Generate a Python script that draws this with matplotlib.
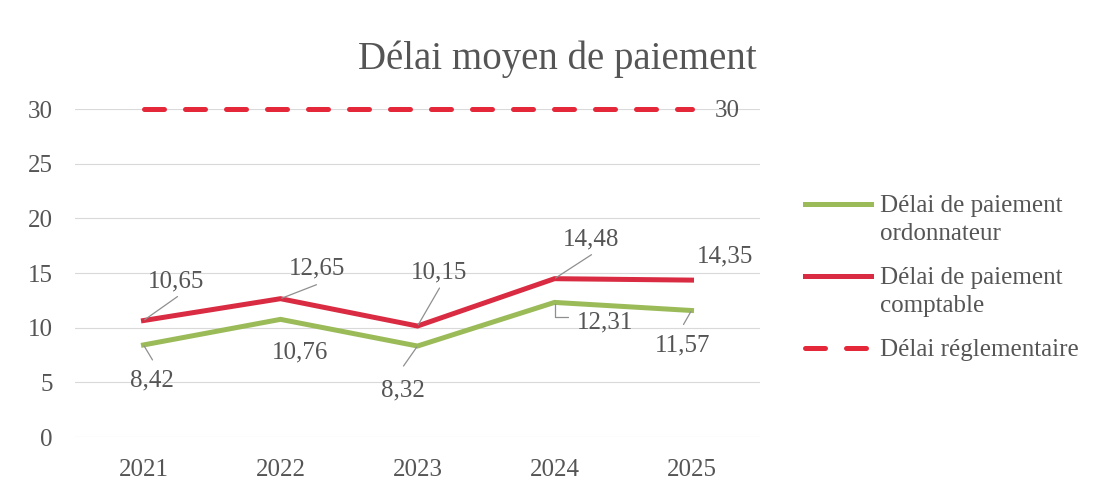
import matplotlib.pyplot as plt
from matplotlib.lines import Line2D

years = ["2021", "2022", "2023", "2024", "2025"]
ordonnateur = [8.42, 10.76, 8.32, 12.31, 11.57]
comptable = [10.65, 12.65, 10.15, 14.48, 14.35]
reglementaire = [30, 30, 30, 30, 30]

GREEN = "#9BBB59"
RED = "#D92B42"
RED_DASH = "#E4283A"
TEXT = "#555555"
LEAD = "#8F8F8F"
W, H = 1097, 494
DASH = (0, (4.0, 4.2))

plt.rcParams["font.family"] = ["Liberation Serif", "DejaVu Serif"]

fig = plt.figure(figsize=(W / 100, H / 100), dpi=100)
ax = fig.add_axes([75 / W, 1 - 437 / H, 685 / W, 328 / H])

x = list(range(len(years)))
ax.plot(x, ordonnateur, color=GREEN, lw=3.6, solid_joinstyle="miter", zorder=3)
ax.plot(x, comptable, color=RED, lw=3.6, solid_joinstyle="miter", zorder=3)
ax.plot(x, reglementaire, color=RED_DASH, lw=3.6, ls=DASH, dash_capstyle="round",
        clip_on=False, zorder=3)

ax.set_xlim(-0.5, 4.5)
ax.set_ylim(0, 30)
ax.set_yticks(range(0, 31, 5))
ax.set_xticks(x)
ax.set_xticklabels(years)
ax.grid(axis="y", color="#D9D9D9", lw=0.8)
ax.set_axisbelow(True)
for s in ax.spines.values():
    s.set_visible(False)
ax.tick_params(length=0, labelsize=18, colors=TEXT)
ax.tick_params(axis="y", pad=16)
ax.tick_params(axis="x", pad=16)


def fmt(v):
    return f"{v:.2f}".replace(".", ",")


def label(i, v, off, lead=None, elbow=False):
    # off / lead: pixel offsets (right, up) from the data point
    dx, dy = off
    ax.annotate(fmt(v), (i, v), xytext=(dx, dy - 8), textcoords="offset pixels",
                ha="center", va="baseline", fontsize=18, color=TEXT,
                annotation_clip=False)
    if lead is None:
        return
    props = dict(arrowstyle="-", color=LEAD, lw=0.9, shrinkA=0, shrinkB=1)
    if elbow:
        props["connectionstyle"] = "angle,angleA=0,angleB=90,rad=0"
    ax.annotate("", (i, v), xytext=lead, textcoords="offset pixels",
                arrowprops=props, annotation_clip=False)


comptable_off = [(33, 41), (37, 32), (22, 56), (37, 41), (34, 26)]
comptable_lead = [(34, 24), (36, 14), (22, 38), (37, 24), None]
ordo_off = [(8, -34), (20, -31), (-15, -42), (51, -18), (-9, -33)]
ordo_lead = [(9, -15), None, (-14, -20), (13, -15), (-8, -14)]

for i, v in enumerate(comptable):
    label(i, v, comptable_off[i], comptable_lead[i])
for i, v in enumerate(ordonnateur):
    label(i, v, ordo_off[i], ordo_lead[i], elbow=(i == 3))

ax.annotate("30", (4, reglementaire[-1]), xytext=(36, -8), textcoords="offset pixels",
            ha="center", va="baseline", fontsize=18, color=TEXT, annotation_clip=False)

fig.text(557 / W, 1 - 69 / H, "Délai moyen de paiement", ha="center", va="baseline",
         fontsize=28, color=TEXT)

# legend, handle aligned with the first line of each entry
legend = [
    (GREEN, "-", ["Délai de paiement", "ordonnateur"], 204),
    (RED, "-", ["Délai de paiement", "comptable"], 276),
    (RED_DASH, DASH, ["Délai réglementaire"], 348),
]
for color, ls, lines, y in legend:
    fig.add_artist(Line2D([805 / W, 871 / W], [1 - y / H, 1 - y / H], color=color,
                          lw=3.6, ls=ls, dash_capstyle="round",
                          transform=fig.transFigure))
    for k, txt in enumerate(lines):
        fig.text(880 / W, 1 - (y + 8 + 28 * k) / H, txt, ha="left", va="baseline",
                 fontsize=18, color=TEXT)

fig.savefig("out.png", dpi=100)
